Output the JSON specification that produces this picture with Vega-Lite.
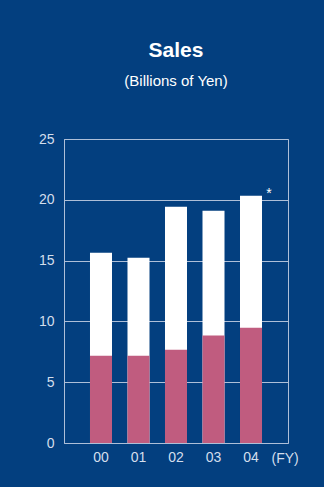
{
  "$schema": "https://vega.github.io/schema/vega-lite/v6.json",
  "autosize": "none",
  "width": 224,
  "height": 304,
  "padding": {"left": 64, "top": 139, "right": 36, "bottom": 44},
  "background": "#033f7f",
  "config": {
    "font": "Liberation Sans",
    "view": {"stroke": "#aebfd8", "strokeWidth": 1}
  },
  "title": {
    "text": "Sales",
    "subtitle": "(Billions of Yen)",
    "anchor": "middle",
    "color": "#ffffff",
    "subtitleColor": "#ffffff",
    "fontSize": 21,
    "fontWeight": "bold",
    "subtitleFontSize": 15,
    "subtitleFont": "Liberation Sans",
    "subtitlePadding": 13,
    "offset": 43
  },
  "data": {
    "values": [
      {"year": "00", "part": 7.18, "total": 15.65, "note": ""},
      {"year": "01", "part": 7.18, "total": 15.24, "note": ""},
      {"year": "02", "part": 7.67, "total": 19.43, "note": ""},
      {"year": "03", "part": 8.85, "total": 19.1, "note": ""},
      {"year": "04", "part": 9.48, "total": 20.34, "note": "*"}
    ]
  },
  "encoding": {
    "x": {
      "field": "year",
      "type": "ordinal",
      "scale": {"paddingInner": 0.413, "paddingOuter": 0.693},
      "axis": {
        "labelAngle": 0,
        "ticks": false,
        "domain": false,
        "labelPadding": 7,
        "labelFontSize": 14,
        "labelColor": "#d3deec",
        "title": "(FY)",
        "titleX": 207,
        "titleY": 15,
        "titleAlign": "left",
        "titleBaseline": "middle",
        "titleFontSize": 14,
        "titleFontWeight": "normal",
        "titleColor": "#d3deec"
      }
    }
  },
  "layer": [
    {
      "mark": {"type": "bar", "color": "#ffffff"},
      "encoding": {
        "y": {
          "field": "total",
          "type": "quantitative",
          "scale": {"domain": [0, 25], "nice": false},
          "axis": {
            "values": [0, 5, 10, 15, 20, 25],
            "ticks": false,
            "grid": true,
            "gridColor": "#aebfd8",
            "gridOpacity": 1,
            "domainColor": "#aebfd8",
            "labelPadding": 10,
            "labelFontSize": 14,
            "labelColor": "#d3deec",
            "title": null
          }
        }
      }
    },
    {
      "mark": {"type": "bar", "color": "#c05c7f"},
      "encoding": {"y": {"field": "part", "type": "quantitative"}}
    },
    {
      "mark": {"type": "text", "color": "#ffffff", "fontSize": 14, "dx": 18, "dy": -2, "baseline": "middle"},
      "encoding": {
        "y": {"field": "total", "type": "quantitative"},
        "text": {"field": "note"}
      }
    }
  ]
}
